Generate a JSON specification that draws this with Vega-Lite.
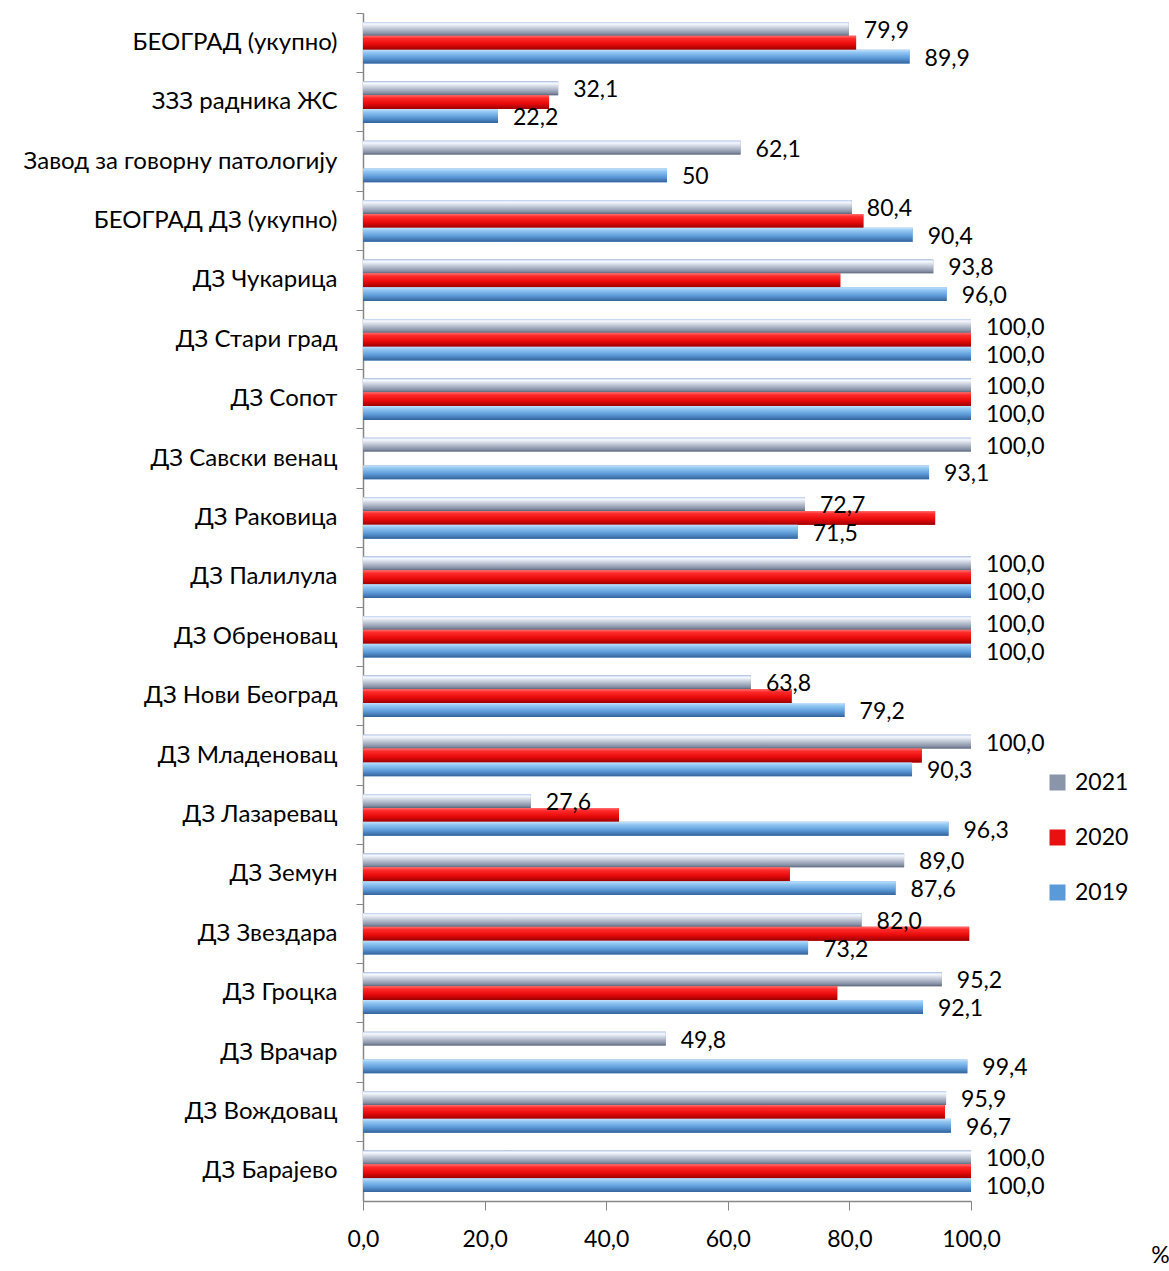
{
  "$schema": "https://vega.github.io/schema/vega-lite/v6.json",
  "width": 608,
  "height": 1188,
  "autosize": "none",
  "padding": {"left": 363, "top": 13, "right": 198, "bottom": 70},
  "background": "white",
  "config": {
    "font": "Lato",
    "view": {"stroke": null},
    "axis": {"grid": false, "domainColor": "#868686", "tickColor": "#868686", "labelColor": "#000000", "labelFontSize": 23, "labelFont": "Lato"}
  },
  "data": {
    "values": [
      {"unit": "БЕОГРАД (укупно)", "year": "2021", "value": 79.9, "label": "79,9"},
      {"unit": "БЕОГРАД (укупно)", "year": "2020", "value": 81.1, "label": null},
      {"unit": "БЕОГРАД (укупно)", "year": "2019", "value": 89.9, "label": "89,9"},
      {"unit": "ЗЗЗ радника ЖС", "year": "2021", "value": 32.1, "label": "32,1"},
      {"unit": "ЗЗЗ радника ЖС", "year": "2020", "value": 30.6, "label": null},
      {"unit": "ЗЗЗ радника ЖС", "year": "2019", "value": 22.2, "label": "22,2"},
      {"unit": "Завод за говорну патологију", "year": "2021", "value": 62.1, "label": "62,1"},
      {"unit": "Завод за говорну патологију", "year": "2019", "value": 50, "label": "50"},
      {"unit": "БЕОГРАД ДЗ (укупно)", "year": "2021", "value": 80.4, "label": "80,4"},
      {"unit": "БЕОГРАД ДЗ (укупно)", "year": "2020", "value": 82.3, "label": null},
      {"unit": "БЕОГРАД ДЗ (укупно)", "year": "2019", "value": 90.4, "label": "90,4"},
      {"unit": "ДЗ Чукарица", "year": "2021", "value": 93.8, "label": "93,8"},
      {"unit": "ДЗ Чукарица", "year": "2020", "value": 78.5, "label": null},
      {"unit": "ДЗ Чукарица", "year": "2019", "value": 96.0, "label": "96,0"},
      {"unit": "ДЗ Стари град", "year": "2021", "value": 100.0, "label": "100,0"},
      {"unit": "ДЗ Стари град", "year": "2020", "value": 100.0, "label": null},
      {"unit": "ДЗ Стари град", "year": "2019", "value": 100.0, "label": "100,0"},
      {"unit": "ДЗ Сопот", "year": "2021", "value": 100.0, "label": "100,0"},
      {"unit": "ДЗ Сопот", "year": "2020", "value": 100.0, "label": null},
      {"unit": "ДЗ Сопот", "year": "2019", "value": 100.0, "label": "100,0"},
      {"unit": "ДЗ Савски венац", "year": "2021", "value": 100.0, "label": "100,0"},
      {"unit": "ДЗ Савски венац", "year": "2019", "value": 93.1, "label": "93,1"},
      {"unit": "ДЗ Раковица", "year": "2021", "value": 72.7, "label": "72,7"},
      {"unit": "ДЗ Раковица", "year": "2020", "value": 94.1, "label": null},
      {"unit": "ДЗ Раковица", "year": "2019", "value": 71.5, "label": "71,5"},
      {"unit": "ДЗ Палилула", "year": "2021", "value": 100.0, "label": "100,0"},
      {"unit": "ДЗ Палилула", "year": "2020", "value": 100.0, "label": null},
      {"unit": "ДЗ Палилула", "year": "2019", "value": 100.0, "label": "100,0"},
      {"unit": "ДЗ Обреновац", "year": "2021", "value": 100.0, "label": "100,0"},
      {"unit": "ДЗ Обреновац", "year": "2020", "value": 100.0, "label": null},
      {"unit": "ДЗ Обреновац", "year": "2019", "value": 100.0, "label": "100,0"},
      {"unit": "ДЗ Нови Београд", "year": "2021", "value": 63.8, "label": "63,8"},
      {"unit": "ДЗ Нови Београд", "year": "2020", "value": 70.5, "label": null},
      {"unit": "ДЗ Нови Београд", "year": "2019", "value": 79.2, "label": "79,2"},
      {"unit": "ДЗ Младеновац", "year": "2021", "value": 100.0, "label": "100,0"},
      {"unit": "ДЗ Младеновац", "year": "2020", "value": 91.9, "label": null},
      {"unit": "ДЗ Младеновац", "year": "2019", "value": 90.3, "label": "90,3"},
      {"unit": "ДЗ Лазаревац", "year": "2021", "value": 27.6, "label": "27,6"},
      {"unit": "ДЗ Лазаревац", "year": "2020", "value": 42.1, "label": null},
      {"unit": "ДЗ Лазаревац", "year": "2019", "value": 96.3, "label": "96,3"},
      {"unit": "ДЗ Земун", "year": "2021", "value": 89.0, "label": "89,0"},
      {"unit": "ДЗ Земун", "year": "2020", "value": 70.2, "label": null},
      {"unit": "ДЗ Земун", "year": "2019", "value": 87.6, "label": "87,6"},
      {"unit": "ДЗ Звездара", "year": "2021", "value": 82.0, "label": "82,0"},
      {"unit": "ДЗ Звездара", "year": "2020", "value": 99.7, "label": null},
      {"unit": "ДЗ Звездара", "year": "2019", "value": 73.2, "label": "73,2"},
      {"unit": "ДЗ Гроцка", "year": "2021", "value": 95.2, "label": "95,2"},
      {"unit": "ДЗ Гроцка", "year": "2020", "value": 78.0, "label": null},
      {"unit": "ДЗ Гроцка", "year": "2019", "value": 92.1, "label": "92,1"},
      {"unit": "ДЗ Врачар", "year": "2021", "value": 49.8, "label": "49,8"},
      {"unit": "ДЗ Врачар", "year": "2019", "value": 99.4, "label": "99,4"},
      {"unit": "ДЗ Вождовац", "year": "2021", "value": 95.9, "label": "95,9"},
      {"unit": "ДЗ Вождовац", "year": "2020", "value": 95.7, "label": null},
      {"unit": "ДЗ Вождовац", "year": "2019", "value": 96.7, "label": "96,7"},
      {"unit": "ДЗ Барајево", "year": "2021", "value": 100.0, "label": "100,0"},
      {"unit": "ДЗ Барајево", "year": "2020", "value": 100.0, "label": null},
      {"unit": "ДЗ Барајево", "year": "2019", "value": 100.0, "label": "100,0"}
    ]
  },
  "encoding": {
    "y": {
      "field": "unit",
      "type": "nominal",
      "sort": null,
      "scale": {"paddingInner": 0, "paddingOuter": 0},
      "axis": {"title": null, "bandPosition": 0, "tickSize": 7, "labelPadding": 19, "labelLimit": 0, "labelFontSize": 24, "domainWidth": 1.5}
    },
    "yOffset": {
      "field": "year",
      "type": "nominal",
      "scale": {"domain": ["2021", "2020", "2019"], "paddingInner": 0, "paddingOuter": 0.64}
    },
    "x": {
      "field": "value",
      "type": "quantitative",
      "scale": {"domain": [0, 100], "nice": false},
      "axis": {
        "values": [0, 20, 40, 60, 80, 100],
        "labelExpr": "replace(format(datum.value, '.1f'), '.', ',')",
        "labelFlush": false,
        "labelOverlap": false,
        "tickSize": 9,
        "labelPadding": 18,
        "domainWidth": 1.5,
        "title": "%",
        "titleFontSize": 23,
        "titleFontWeight": "normal",
        "titleFont": "Lato",
        "titleX": 797,
        "titleY": 54,
        "titleAlign": "center",
        "titleBaseline": "middle"
      }
    }
  },
  "layer": [
    {
      "mark": {"type": "bar"},
      "encoding": {
        "color": {
          "field": "year",
          "type": "nominal",
          "scale": {"domain": ["2021", "2020", "2019"], "range": ["#8a95aa", "#e81010", "#5b9ad8"]},
          "legend": {
            "title": null,
            "orient": "none",
            "legendX": 683,
            "legendY": 758,
            "symbolType": "square",
            "symbolSize": 256,
            "symbolStrokeWidth": 0,
            "labelFontSize": 23,
            "labelFont": "Lato",
            "labelColor": "#000000",
            "labelOffset": 6,
            "rowPadding": 31
          }
        }
      }
    },
    {
      "transform": [{"filter": "datum.year === '2021'"}],
      "mark": {
        "type": "bar",
        "color": {
          "gradient": "linear", "x1": 0, "y1": 0, "x2": 0, "y2": 1,
          "stops": [
            {"offset": 0, "color": "#b9cdee"},
            {"offset": 0.15, "color": "#f6f9fe"},
            {"offset": 0.5, "color": "#bcc4d3"},
            {"offset": 0.85, "color": "#858fa4"},
            {"offset": 1, "color": "#5c6477"}
          ]
        }
      }
    },
    {
      "transform": [{"filter": "datum.year === '2020'"}],
      "mark": {
        "type": "bar",
        "color": {
          "gradient": "linear", "x1": 0, "y1": 0, "x2": 0, "y2": 1,
          "stops": [
            {"offset": 0, "color": "#ff7070"},
            {"offset": 0.2, "color": "#ff2a2a"},
            {"offset": 0.6, "color": "#e80a0a"},
            {"offset": 1, "color": "#9c0000"}
          ]
        }
      }
    },
    {
      "transform": [{"filter": "datum.year === '2019'"}],
      "mark": {
        "type": "bar",
        "color": {
          "gradient": "linear", "x1": 0, "y1": 0, "x2": 0, "y2": 1,
          "stops": [
            {"offset": 0, "color": "#c4e2fb"},
            {"offset": 0.2, "color": "#92c7f3"},
            {"offset": 0.6, "color": "#5d9bd9"},
            {"offset": 1, "color": "#33639c"}
          ]
        }
      }
    },
    {
      "transform": [{"filter": "datum.label != null"}],
      "mark": {"type": "text", "align": "left", "baseline": "middle", "dx": 15, "dy": 2, "fontSize": 23, "font": "Lato", "color": "#000000"},
      "encoding": {"text": {"field": "label"}}
    }
  ]
}
